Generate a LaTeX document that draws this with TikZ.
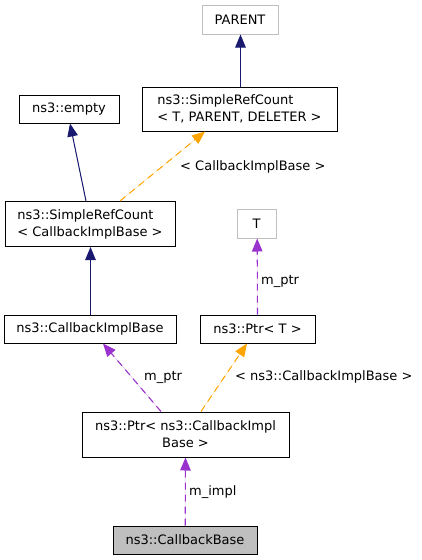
\documentclass[tikz,border=0pt]{standalone}
\usepackage{fontspec}
\setmainfont{DejaVu Sans}
\usetikzlibrary{arrows.meta}
\definecolor{dxnavy}{HTML}{191970}
\definecolor{dxorange}{HTML}{FFA500}
\definecolor{dxpurple}{HTML}{9A32CD}
\definecolor{dxgray}{HTML}{BFBFBF}
\begin{document}
\begin{tikzpicture}[x=1pt,y=-1pt,
  every node/.style={font=\fontsize{13}{17}\selectfont, inner sep=0pt},
  cls/.style={draw=black, line width=1pt, align=left},
  ext/.style={draw=dxgray, line width=1pt},
  tip/.style={-{Triangle[length=13pt,width=10.5pt]}},
  inherit/.style={tip, draw=dxnavy, fill=dxnavy, line width=1pt},
  templ/.style={tip, draw=dxorange, fill=dxorange, line width=1pt, dash pattern=on 7pt off 5pt},
  usage/.style={tip, draw=dxpurple, fill=dxpurple, line width=1.1pt, dash pattern=on 7pt off 5pt},
  lbl/.style={anchor=base west}
]
\useasboundingbox (0,0) rectangle (421,560);
\fill[white] (0,0) rectangle (421,560);

\node[ext, minimum width=76pt, minimum height=29pt] (PARENT) at (240,19.5) {PARENT};
\node[cls, minimum width=195pt, minimum height=44pt] (SRC1) at (239.5,109) {ns3::SimpleRefCount\\< T, PARENT, DELETER >};
\node[cls, minimum width=100pt, minimum height=28pt] (empty) at (69,109) {ns3::empty};
\node[cls, minimum width=170pt, minimum height=45pt] (SRC2) at (90,224) {ns3::SimpleRefCount\\< CallbackImplBase >};
\node[ext, minimum width=39pt, minimum height=29pt] (T) at (256.5,223.5) {T};
\node[cls, minimum width=172pt, minimum height=28pt] (CIB) at (90,329) {ns3::CallbackImplBase};
\node[cls, minimum width=115pt, minimum height=28pt] (PtrT) at (257.5,329) {ns3::Ptr< T >};
\node[cls, align=center, minimum width=207pt, minimum height=45pt] (PtrCIB) at (185.5,434.5) {ns3::Ptr< ns3::CallbackImpl\\Base >};
\node[cls, fill=dxgray, minimum width=144pt, minimum height=28pt] (CB) at (185,540) {ns3::CallbackBase};

\draw[inherit] ([xshift=1pt]SRC1.north) -- ([xshift=0.5pt]PARENT.south);
\draw[inherit] ([xshift=-4pt]SRC2.north) -- ([xshift=1pt]empty.south);
\draw[templ] ([xshift=30pt]SRC2.north) -- ([xshift=-34.5pt]SRC1.south);
\draw[inherit] ([xshift=0.5pt]CIB.north) -- ([xshift=0.5pt]SRC2.south);
\draw[usage] (PtrT.north) -- ([xshift=0.7pt]T.south);
\draw[usage] ([xshift=-24.5pt]PtrCIB.north) -- ([xshift=13pt]CIB.south);
\draw[templ] ([xshift=15.5pt]PtrCIB.north) -- ([xshift=-10.5pt]PtrT.south);
\draw[usage] ([xshift=0.2pt]CB.north) -- (PtrCIB.south);

\node[lbl] (l1) at (180,170) {< CallbackImplBase >};
\node[lbl] (l2) at (261,284.5) {m\_ptr};
\node[lbl] (l3) at (144,380.5) {m\_ptr};
\node[lbl] (l4) at (235,380.5) {< ns3::CallbackImplBase >};
\node[lbl] (l5) at (189,495) {m\_impl};
\end{tikzpicture}
\end{document}
